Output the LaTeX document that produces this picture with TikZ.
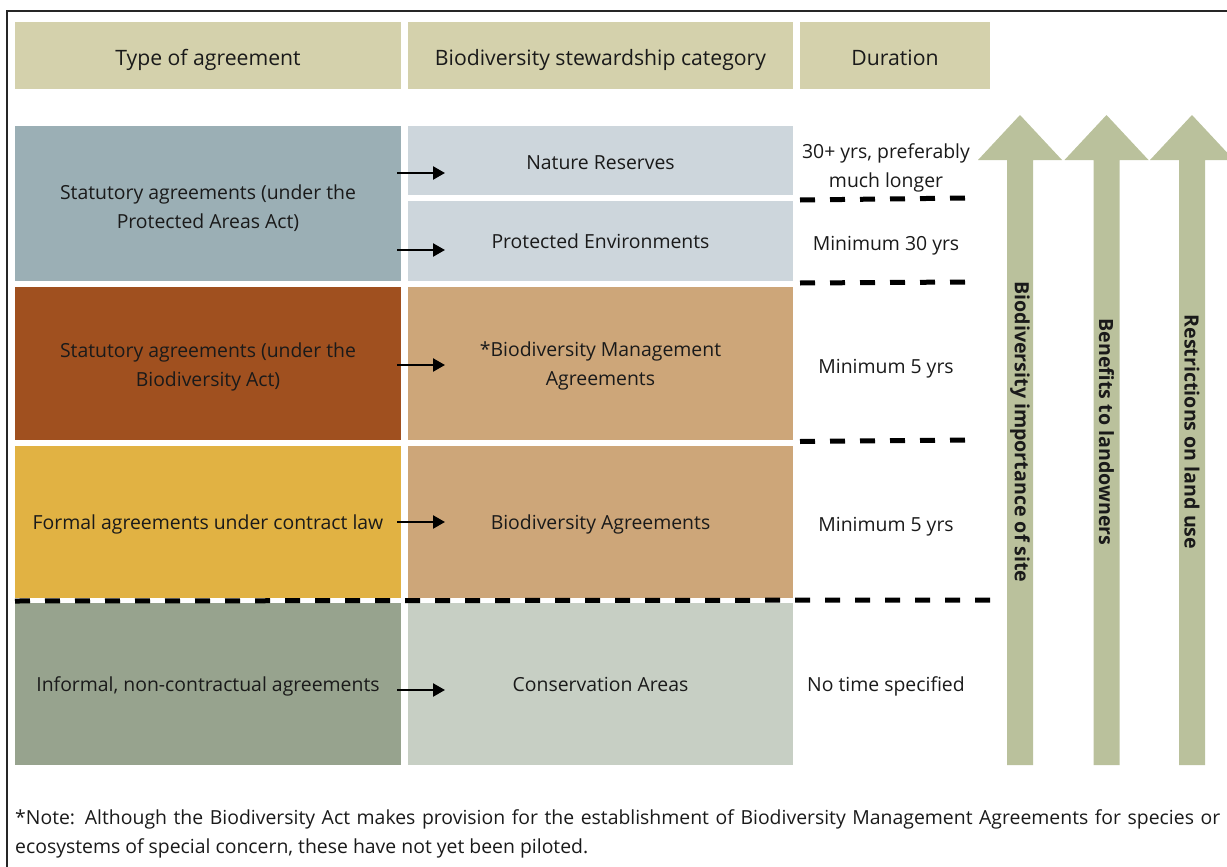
\documentclass[tikz,border=0pt]{standalone}
\usepackage{fontspec}
\setmainfont{Open Sans}
\usetikzlibrary{arrows.meta}
\definecolor{hdr}{HTML}{D4D1AC}
\definecolor{blueL}{HTML}{9BAFB5}
\definecolor{blueM}{HTML}{CDD6DC}
\definecolor{brownL}{HTML}{A0501F}
\definecolor{tanM}{HTML}{CDA679}
\definecolor{yellowL}{HTML}{E1B243}
\definecolor{greyL}{HTML}{97A38E}
\definecolor{greyM}{HTML}{C7CFC4}
\definecolor{arrowc}{HTML}{BAC19C}
\definecolor{txt}{HTML}{1A1A1A}
\tikzset{
  cell/.style={inner sep=0pt, outer sep=0pt},
  ctext/.style={inner sep=0pt, align=center, text=txt, font=\fontsize{19.4}{29}\selectfont},
  htext/.style={ctext, font=\fontsize{21.2}{24}\selectfont},
  hcell/.style={cell, fill=hdr, minimum height=67pt},
  dur/.style={ctext},
  arr/.style={line width=2.3pt, -{Triangle[length=12pt,width=13pt]}},
  dsh/.style={line width=5pt, dash pattern=on 15pt off 15pt},
  bigarrow/.style={fill=arrowc, draw=none},
  vlabel/.style={rotate=-90, font=\bfseries\fontsize{19.6}{22}\selectfont, text=txt, inner sep=0pt}
}
\begin{document}
\begin{tikzpicture}[x=1pt,y=-1pt]
\useasboundingbox (0,0) rectangle (1227,867);
% frame
\draw[line width=1.5pt, draw=black!85] (7,870) -- (7,11) -- (1230,11);
% headers
\node[hcell, minimum width=386pt, label={[htext, yshift=-4pt]center:Type of agreement}] (h1) at (208,55.5) {};
\node[hcell, minimum width=385pt, label={[htext, yshift=-4pt]center:Biodiversity stewardship category}] (h2) at (600.5,55.5) {};
\node[hcell, minimum width=190pt, label={[htext, yshift=-2pt]center:Duration}] (h3) at (895,55.5) {};
% left column
\node[cell, fill=blueL, minimum width=386pt, minimum height=155pt,
  label={[ctext, yshift=-5pt]center:{Statutory agreements (under the\\Protected Areas Act)}}] (l1) at (208,203.5) {};
\node[cell, fill=brownL, minimum width=386pt, minimum height=153pt,
  label={[ctext, yshift=-3pt]center:{Statutory agreements (under the\\Biodiversity Act)}}] (l2) at (208,363.5) {};
\node[cell, fill=yellowL, minimum width=386pt, minimum height=152pt,
  label={[ctext, yshift=-2pt]center:Formal agreements under contract law}] (l3) at (208,522) {};
\node[cell, fill=greyL, minimum width=386pt, minimum height=162pt,
  label={[ctext, yshift=-2pt]center:{Informal, non-contractual agreements}}] (l4) at (208,684) {};
% middle column
\node[cell, fill=blueM, minimum width=385pt, minimum height=69pt,
  label={[ctext, yshift=-2pt]center:Nature Reserves}] (m1) at (600.5,160.5) {};
\node[cell, fill=blueM, minimum width=385pt, minimum height=80pt,
  label={[ctext]center:Protected Environments}] (m2) at (600.5,241) {};
\node[cell, fill=tanM, minimum width=385pt, minimum height=153pt,
  label={[ctext, yshift=-2pt]center:{*Biodiversity Management\\Agreements}}] (m3) at (600.5,363.5) {};
\node[cell, fill=tanM, minimum width=385pt, minimum height=152pt,
  label={[ctext, yshift=-2pt]center:Biodiversity Agreements}] (m4) at (600.5,522) {};
\node[cell, fill=greyM, minimum width=385pt, minimum height=162pt,
  label={[ctext]center:Conservation Areas}] (m5) at (600.5,684) {};
% durations
\node[dur] (d1) at (886,168) {30+ yrs, preferably\\much longer};
\node[dur] (d2) at (886,246) {Minimum 30 yrs};
\node[dur] (d3) at (886,369) {Minimum 5 yrs};
\node[dur] (d4) at (886,527) {Minimum 5 yrs};
\node[dur] (d5) at (886,686) {No time specified};
% small arrows
\draw[arr] ([xshift=-4pt]l1.east |- 0,173) -- ([xshift=37pt]m1.west |- 0,173);
\draw[arr] ([xshift=-4pt]l1.east |- 0,250) -- ([xshift=37pt]m2.west |- 0,250);
\draw[arr] ([xshift=-4pt]l2.east |- 0,365) -- ([xshift=37pt]m3.west |- 0,365);
\draw[arr] ([xshift=-4pt]l3.east |- 0,522) -- ([xshift=37pt]m4.west |- 0,522);
\draw[arr] ([xshift=-4pt]l4.east |- 0,690) -- ([xshift=37pt]m5.west |- 0,690);
% dashed separators
\draw[dsh] (800,200) -- (968,198);
\draw[dsh] (800,283) -- (968,282);
\draw[dsh] (800,441.5) -- (968,440);
\draw[dsh] (15,601) -- (998,600);
% big arrows
\foreach \c/\n in {1020/a1,1106.5/a2,1192/a3}{
  \fill[bigarrow] (\c-13,765) -- (\c-13,160) -- (\c-42,160) -- (\c,115) -- (\c+42,160) -- (\c+13,160) -- (\c+13,765) -- cycle;
  \coordinate (\n) at (\c,432);
}
\node[vlabel] (t1) at (a1) {Biodiversity importance of site};
\node[vlabel] (t2) at (a2) {Benefits to landowners};
\node[vlabel] (t3) at (a3) {Restrictions on land use};
% note
\node[anchor=north west, inner sep=0pt, text width=1205pt, align=justify, text=txt,
  font=\fontsize{19.4}{29}\selectfont] (note) at (15,809)
  {*Note: Although the Biodiversity Act makes provision for the establishment of Biodiversity Management Agreements for species or ecosystems of special concern, these have not yet been piloted.};
\end{tikzpicture}
\end{document}
